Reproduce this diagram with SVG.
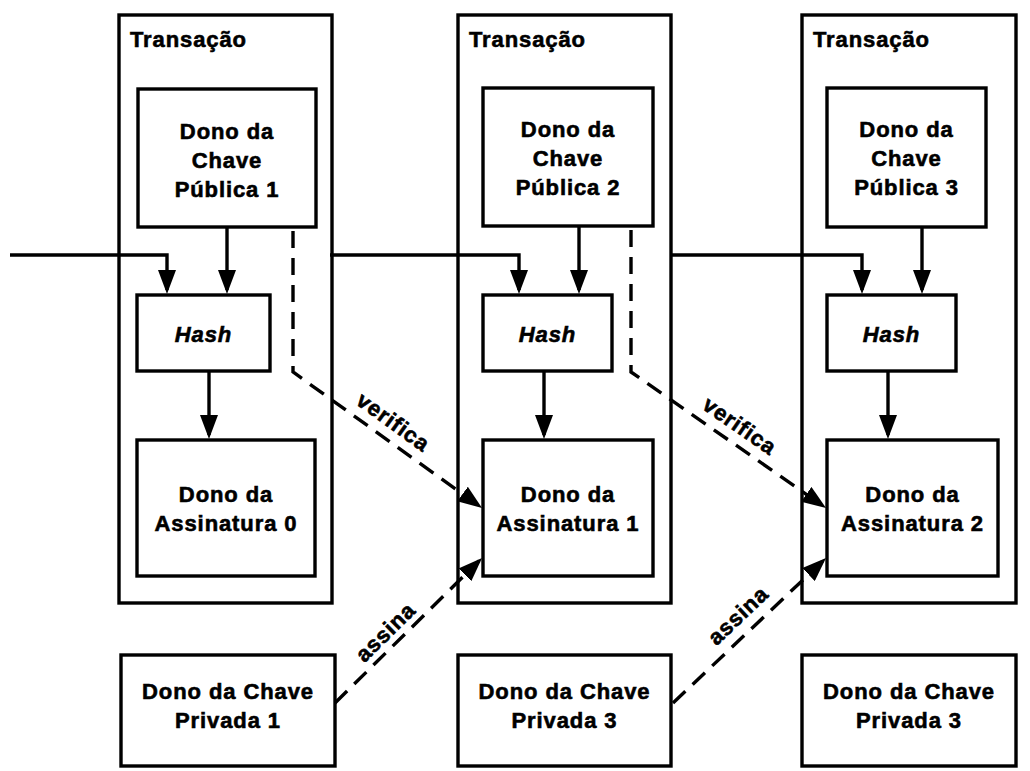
<svg xmlns="http://www.w3.org/2000/svg" width="1030" height="771" viewBox="0 0 1030 771">
  <style>
    .box { fill: #ffffff; stroke: #000000; stroke-width: 3.4; }
    .cont { fill: none; stroke: #000000; stroke-width: 3.4; }
    .t { font-family: "Liberation Sans", Arial, sans-serif; font-weight: bold; font-size: 22px; letter-spacing: 0.9px; fill: #000000; stroke: #000000; stroke-width: 0.6px; text-anchor: middle; }
    .tl { text-anchor: start; }
    .it { font-style: italic; }
    .edge { fill: none; stroke: #000000; stroke-width: 3.4; }
    .dash { stroke-dasharray: 17 10; }
  </style>
  <defs>
    <marker id="ah" markerUnits="userSpaceOnUse" viewBox="0 0 24 18" refX="20" refY="9" markerWidth="24" markerHeight="18" orient="auto">
      <path d="M0,0 L24,9 L0,18 z" fill="#000000" stroke="none"/>
    </marker>
  </defs>
  <rect width="1030" height="771" fill="#ffffff"/>

  <g id="transacao1">
    <rect class="cont" x="119" y="15" width="213" height="588"/>
    <text class="t tl" x="130" y="47">Transação</text>
  </g>
  <g id="transacao2">
    <rect class="cont" x="458" y="15" width="213" height="588"/>
    <text class="t tl" x="469" y="47">Transação</text>
  </g>
  <g id="transacao3">
    <rect class="cont" x="802" y="15" width="214" height="588"/>
    <text class="t tl" x="813" y="47">Transação</text>
  </g>

  <g id="chavePublica1">
    <rect class="box" x="138" y="89" width="178" height="138"/>
    <text class="t" x="227" y="139">Dono da</text>
    <text class="t" x="227" y="168">Chave</text>
    <text class="t" x="227" y="197">Pública 1</text>
  </g>
  <g id="chavePublica2">
    <rect class="box" x="483" y="88" width="170" height="138"/>
    <text class="t" x="568" y="137">Dono da</text>
    <text class="t" x="568" y="166">Chave</text>
    <text class="t" x="568" y="195">Pública 2</text>
  </g>
  <g id="chavePublica3">
    <rect class="box" x="827" y="88" width="159" height="139"/>
    <text class="t" x="906.5" y="137">Dono da</text>
    <text class="t" x="906.5" y="166">Chave</text>
    <text class="t" x="906.5" y="195">Pública 3</text>
  </g>

  <g id="hash1">
    <rect class="box" x="137" y="295" width="133" height="76"/>
    <text class="t it" x="203.5" y="342">Hash</text>
  </g>
  <g id="hash2">
    <rect class="box" x="483" y="295" width="129" height="76"/>
    <text class="t it" x="547.5" y="342">Hash</text>
  </g>
  <g id="hash3">
    <rect class="box" x="827" y="295" width="129" height="76"/>
    <text class="t it" x="891.5" y="342">Hash</text>
  </g>

  <g id="assinatura0">
    <rect class="box" x="137" y="440" width="178" height="136"/>
    <text class="t" x="226" y="502">Dono da</text>
    <text class="t" x="226" y="531">Assinatura 0</text>
  </g>
  <g id="assinatura1">
    <rect class="box" x="483" y="440" width="170" height="136"/>
    <text class="t" x="568" y="502">Dono da</text>
    <text class="t" x="568" y="531">Assinatura 1</text>
  </g>
  <g id="assinatura2">
    <rect class="box" x="827" y="440" width="171" height="136"/>
    <text class="t" x="912.5" y="502">Dono da</text>
    <text class="t" x="912.5" y="531">Assinatura 2</text>
  </g>

  <g id="chavePrivada1">
    <rect class="box" x="121" y="655" width="214" height="111"/>
    <text class="t" x="228" y="699">Dono da Chave</text>
    <text class="t" x="228" y="728">Privada 1</text>
  </g>
  <g id="chavePrivada3a">
    <rect class="box" x="458" y="655" width="213" height="111"/>
    <text class="t" x="564.5" y="699">Dono da Chave</text>
    <text class="t" x="564.5" y="728">Privada 3</text>
  </g>
  <g id="chavePrivada3b">
    <rect class="box" x="802" y="655" width="214" height="111"/>
    <text class="t" x="909" y="699">Dono da Chave</text>
    <text class="t" x="909" y="728">Privada 3</text>
  </g>

  <g id="connectors">
    <path class="edge" d="M10,255 H167 V290" marker-end="url(#ah)"/>
    <path class="edge" d="M330,255 H519 V290" marker-end="url(#ah)"/>
    <path class="edge" d="M672,255 H862 V290" marker-end="url(#ah)"/>
    <path class="edge" d="M227,227 V290" marker-end="url(#ah)"/>
    <path class="edge" d="M579,226 V290" marker-end="url(#ah)"/>
    <path class="edge" d="M922,227 V290" marker-end="url(#ah)"/>
    <path class="edge" d="M209,371 V435" marker-end="url(#ah)"/>
    <path class="edge" d="M544,371 V435" marker-end="url(#ah)"/>
    <path class="edge" d="M888,371 V435" marker-end="url(#ah)"/>
    <path class="edge dash" d="M293,231 V372 L478.8,505.7" marker-end="url(#ah)"/>
    <path class="edge dash" d="M631,230 V372 L822.7,505.7" marker-end="url(#ah)"/>
    <path class="edge dash" d="M335,703 L479.2,560.8" marker-end="url(#ah)"/>
    <path class="edge dash" d="M673,703 L823.1,560.8" marker-end="url(#ah)"/>
    <text class="t" transform="translate(389,428) rotate(35.73)">verifica</text>
    <text class="t" transform="translate(735.5,432) rotate(34.9)">verifica</text>
    <text class="t" transform="translate(390.8,637.4) rotate(-44.6)">assina</text>
    <text class="t" transform="translate(743.2,620.9) rotate(-43.46)">assina</text>
  </g>
</svg>
